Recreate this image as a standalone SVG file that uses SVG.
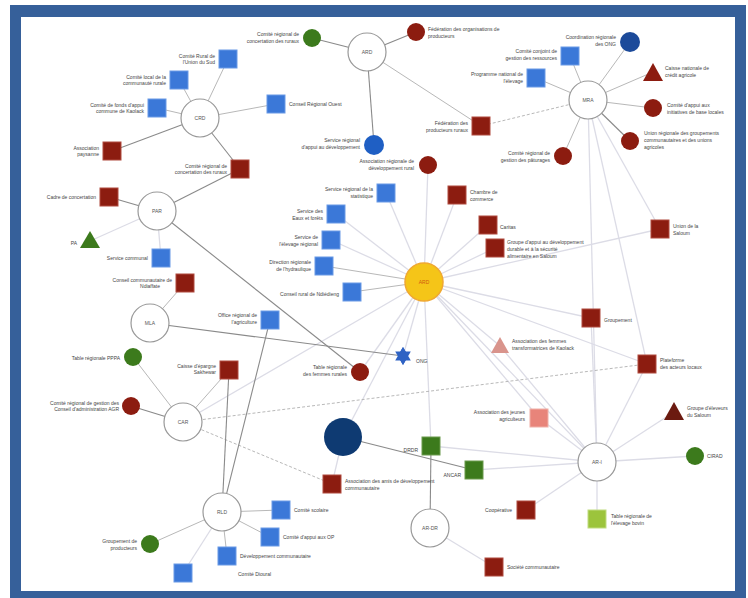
<svg xmlns="http://www.w3.org/2000/svg" width="748" height="598" viewBox="0 0 748 598">
<defs>
<style>
.lbl{font-family:"Liberation Sans",Arial,sans-serif;font-size:5px;fill:#444}
.r{text-anchor:end}
.hl{font-family:"Liberation Sans",Arial,sans-serif;font-size:5px;fill:#555;text-anchor:middle}
.hub{fill:#fff;stroke:#999;stroke-width:1.2}
.ed{stroke:#8a8a8a;stroke-width:1.1;fill:none}
.em{stroke:#b8b8b8;stroke-width:1;fill:none}
.ef{stroke:#dcdce6;stroke-width:1.3;fill:none}
.ex{stroke:#b0b0b0;stroke-width:0.9;fill:none;stroke-dasharray:3 2}
.sb{fill:#3b78d8;stroke:#6a9ae6;stroke-width:1}
.sr{fill:#8c1c10;stroke:#b04a3e;stroke-width:1}
.sg{fill:#3c7a1c;stroke:#6a9a4c;stroke-width:1}
</style>
</defs>
<rect x="10" y="5" width="736" height="593" fill="#36609a"/>
<rect x="21" y="17" width="714" height="574" fill="#ffffff"/>

<g id="connectors">
<!-- central yellow -->
<line class="ef" x1="424" y1="282" x2="386" y2="193"/>
<line class="ef" x1="424" y1="282" x2="336" y2="214"/>
<line class="ef" x1="424" y1="282" x2="331" y2="240"/>
<line class="em" x1="424" y1="282" x2="324" y2="266"/>
<line class="em" x1="424" y1="282" x2="352" y2="292"/>
<line class="ef" x1="424" y1="282" x2="428" y2="165"/>
<line class="ef" x1="424" y1="282" x2="457" y2="195"/>
<line class="ef" x1="424" y1="282" x2="488" y2="225"/>
<line class="ef" x1="424" y1="282" x2="495" y2="248"/>
<line class="ef" x1="424" y1="282" x2="660" y2="229"/>
<line class="ef" x1="424" y1="282" x2="591" y2="318"/>
<line class="ef" x1="424" y1="282" x2="500" y2="346"/>
<line class="ef" x1="424" y1="282" x2="647" y2="364"/>
<line class="ef" x1="424" y1="282" x2="403" y2="356"/>
<line class="ef" x1="424" y1="282" x2="360" y2="372"/>
<line class="ef" x1="424" y1="282" x2="539" y2="418"/>
<line class="ef" x1="424" y1="282" x2="597" y2="462"/>
<line class="ef" x1="424" y1="282" x2="431" y2="446"/>
<line class="ef" x1="424" y1="282" x2="343" y2="437"/>
<line class="ef" x1="424" y1="282" x2="183" y2="422"/>
<!-- H1 -->
<line class="em" x1="200" y1="118" x2="228" y2="59"/>
<line class="em" x1="200" y1="118" x2="179" y2="80"/>
<line class="em" x1="200" y1="118" x2="157" y2="108"/>
<line class="ed" x1="200" y1="118" x2="112" y2="151"/>
<line class="ed" x1="200" y1="118" x2="240" y2="169"/>
<line class="em" x1="200" y1="118" x2="276" y2="104"/>
<!-- H2 -->
<line class="ed" x1="367" y1="52" x2="312" y2="38"/>
<line class="ed" x1="367" y1="52" x2="416" y2="32"/>
<line class="ed" x1="367" y1="52" x2="374" y2="145"/>
<line class="em" x1="367" y1="52" x2="481" y2="126"/>
<!-- H3 -->
<line class="em" x1="588" y1="100" x2="630" y2="42"/>
<line class="em" x1="588" y1="100" x2="570" y2="56"/>
<line class="em" x1="588" y1="100" x2="536" y2="78"/>
<line class="em" x1="588" y1="100" x2="653" y2="72"/>
<line class="em" x1="588" y1="100" x2="653" y2="108"/>
<line class="ed" x1="588" y1="100" x2="630" y2="141"/>
<line class="em" x1="588" y1="100" x2="563" y2="156"/>
<line class="ex" x1="588" y1="100" x2="481" y2="126"/>
<line class="ef" x1="588" y1="100" x2="660" y2="229"/>
<line class="ef" x1="588" y1="100" x2="597" y2="462"/>
<line class="ef" x1="588" y1="100" x2="647" y2="364"/>
<!-- H4 -->
<line class="ed" x1="157" y1="211" x2="240" y2="169"/>
<line class="ed" x1="157" y1="211" x2="109" y2="197"/>
<line class="ef" x1="157" y1="211" x2="90" y2="241"/>
<line class="ef" x1="157" y1="211" x2="161" y2="258"/>
<line class="ed" x1="157" y1="211" x2="360" y2="372"/>
<!-- H5 -->
<line class="em" x1="150" y1="323" x2="185" y2="283"/>
<line class="ed" x1="150" y1="323" x2="403" y2="356"/>
<!-- H6 -->
<line class="em" x1="183" y1="422" x2="133" y2="357"/>
<line class="em" x1="183" y1="422" x2="229" y2="370"/>
<line class="ed" x1="183" y1="422" x2="131" y2="406"/>
<line class="ex" x1="183" y1="422" x2="647" y2="364"/>
<line class="ex" x1="183" y1="422" x2="332" y2="484"/>
<!-- H7 -->
<line class="ed" x1="222" y1="512" x2="270" y2="320"/>
<line class="ed" x1="222" y1="512" x2="229" y2="370"/>
<line class="em" x1="222" y1="512" x2="150" y2="544"/>
<line class="em" x1="222" y1="512" x2="281" y2="510"/>
<line class="em" x1="222" y1="512" x2="270" y2="537"/>
<line class="em" x1="222" y1="512" x2="227" y2="556"/>
<line class="ef" x1="222" y1="512" x2="183" y2="573"/>
<!-- navy / H8 -->
<line class="ed" x1="343" y1="437" x2="474" y2="470"/>
<line class="ef" x1="343" y1="437" x2="332" y2="484"/>
<line class="ed" x1="431" y1="446" x2="430" y2="528"/>
<line class="ef" x1="430" y1="528" x2="494" y2="567"/>
<!-- H9 -->
<line class="ef" x1="597" y1="462" x2="539" y2="418"/>
<line class="ef" x1="597" y1="462" x2="674" y2="412"/>
<line class="ef" x1="597" y1="462" x2="695" y2="456"/>
<line class="ef" x1="597" y1="462" x2="526" y2="510"/>
<line class="ef" x1="597" y1="462" x2="597" y2="519"/>
<line class="ef" x1="597" y1="462" x2="591" y2="318"/>
<line class="ef" x1="597" y1="462" x2="500" y2="346"/>
<line class="ef" x1="597" y1="462" x2="431" y2="446"/>
<line class="ef" x1="597" y1="462" x2="474" y2="470"/>
<line class="ef" x1="597" y1="462" x2="647" y2="364"/>
</g>

<!-- hubs -->
<g id="h1"><circle class="hub" cx="200" cy="118" r="19"/><text class="hl" x="200" y="120">CRD</text></g>
<g id="h2"><circle class="hub" cx="367" cy="52" r="19"/><text class="hl" x="367" y="54">ARD</text></g>
<g id="h3"><circle class="hub" cx="588" cy="100" r="19"/><text class="hl" x="588" y="102">MRA</text></g>
<g id="h4"><circle class="hub" cx="157" cy="211" r="19"/><text class="hl" x="157" y="213">PAR</text></g>
<g id="h5"><circle class="hub" cx="150" cy="323" r="19"/><text class="hl" x="150" y="325">MLA</text></g>
<g id="h6"><circle class="hub" cx="183" cy="422" r="19"/><text class="hl" x="183" y="424">CAR</text></g>
<g id="h7"><circle class="hub" cx="222" cy="512" r="19"/><text class="hl" x="222" y="514">RLD</text></g>
<g id="h8"><circle class="hub" cx="430" cy="528" r="19"/><text class="hl" x="430" y="530">AR-DR</text></g>
<g id="h9"><circle class="hub" cx="597" cy="462" r="19"/><text class="hl" x="597" y="464">AR-I</text></g>
<g id="center"><circle cx="424" cy="282" r="19" fill="#f5c518" stroke="#f0a830" stroke-width="1.5"/><text class="hl" x="424" y="284" style="fill:#d05a10">ARD</text></g>
<g id="navy"><circle cx="343" cy="437" r="19" fill="#0e3a72"/></g>

<!-- leaves -->
<g id="n1"><rect class="sb" x="219" y="50" width="18" height="18"/><text class="lbl r" x="215" y="58">Comité Rural de</text><text class="lbl r" x="215" y="64">l'Union du Sud</text></g>
<g id="n2"><rect class="sb" x="170" y="71" width="18" height="18"/><text class="lbl r" x="166" y="79">Comité local de la</text><text class="lbl r" x="166" y="85">communauté rurale</text></g>
<g id="n3"><rect class="sb" x="148" y="99" width="18" height="18"/><text class="lbl r" x="144" y="107">Comité de fonds d'appui</text><text class="lbl r" x="144" y="113">commune de Kaolack</text></g>
<g id="n4"><rect class="sr" x="103" y="142" width="18" height="18"/><text class="lbl r" x="99" y="150">Association</text><text class="lbl r" x="99" y="156">paysanne</text></g>
<g id="n5"><rect class="sr" x="231" y="160" width="18" height="18"/><text class="lbl r" x="227" y="168">Comité régional de</text><text class="lbl r" x="227" y="174">concertation des ruraux</text></g>
<g id="n6"><rect class="sr" x="100" y="188" width="18" height="18"/><text class="lbl r" x="96" y="199">Cadre de concertation</text></g>
<g id="n7"><polygon points="90,231 100,248 80,248" fill="#3c7a1c"/><text class="lbl r" x="77" y="245">PA</text></g>
<g id="n8"><rect class="sb" x="152" y="249" width="18" height="18"/><text class="lbl r" x="148" y="260">Service communal</text></g>
<g id="n9"><rect class="sr" x="176" y="274" width="18" height="18"/><text class="lbl r" x="172" y="282">Conseil communautaire de</text><text class="lbl r" x="160" y="288">Ndiaffate</text></g>
<g id="n10"><circle cx="133" cy="357" r="9" fill="#3c7a1c"/><text class="lbl r" x="120" y="360">Table régionale PPPA</text></g>
<g id="n11"><rect class="sr" x="220" y="361" width="18" height="18"/><text class="lbl r" x="216" y="368">Caisse d'épargne</text><text class="lbl r" x="216" y="374">Sakhewar</text></g>
<g id="n12"><circle cx="131" cy="406" r="9" fill="#8c1c10"/><text class="lbl r" x="119" y="405">Comité régional de gestion des</text><text class="lbl r" x="119" y="411">Conseil d'administration AGR</text></g>
<g id="n13"><circle cx="150" cy="544" r="9" fill="#3c7a1c"/><text class="lbl r" x="137" y="543">Groupement de</text><text class="lbl r" x="137" y="550">producteurs</text></g>
<g id="n14"><rect class="sb" x="272" y="501" width="18" height="18"/><text class="lbl" x="294" y="512">Comité scolaire</text></g>
<g id="n15"><rect class="sb" x="261" y="528" width="18" height="18"/><text class="lbl" x="283" y="539">Comité d'appui aux OP</text></g>
<g id="n16"><rect class="sb" x="218" y="547" width="18" height="18"/><text class="lbl" x="240" y="558">Développement communautaire</text></g>
<g id="n17"><rect class="sb" x="174" y="564" width="18" height="18"/><text class="lbl" x="238" y="576">Comité Dioural</text></g>
<g id="n18"><rect class="sr" x="323" y="475" width="18" height="18"/><text class="lbl" x="345" y="483">Association des amis de développement</text><text class="lbl" x="345" y="490">communautaire</text></g>
<g id="n19"><rect class="sg" x="422" y="437" width="18" height="18"/><text class="lbl r" x="418" y="452">DRDR</text></g>
<g id="n20"><rect class="sg" x="465" y="461" width="18" height="18"/><text class="lbl r" x="461" y="477">ANCAR</text></g>
<g id="n21"><rect class="sr" x="485" y="558" width="18" height="18"/><text class="lbl" x="507" y="569">Société communautaire</text></g>
<g id="n22"><rect class="sr" x="517" y="501" width="18" height="18"/><text class="lbl r" x="512" y="512">Coopérative</text></g>
<g id="n23"><rect x="588" y="510" width="18" height="18" fill="#9cc43c" stroke="#c0dc80"/><text class="lbl" x="611" y="518">Table régionale de</text><text class="lbl" x="611" y="525">l'élevage bovin</text></g>
<g id="n24"><circle cx="695" cy="456" r="9" fill="#3c7a1c"/><text class="lbl" x="707" y="458">CIRAD</text></g>
<g id="n25"><polygon points="674,402 684,420 664,420" fill="#6b1a10"/><text class="lbl" x="687" y="410">Groupe d'éleveurs</text><text class="lbl" x="687" y="417">du Saloum</text></g>
<g id="n26"><rect x="530" y="409" width="18" height="18" fill="#e8847a" stroke="#f0b0a8"/><text class="lbl r" x="525" y="414">Association des jeunes</text><text class="lbl r" x="525" y="421">agriculteurs</text></g>
<g id="n27"><rect class="sr" x="638" y="355" width="18" height="18"/><text class="lbl" x="660" y="362">Plateforme</text><text class="lbl" x="660" y="369">des acteurs locaux</text></g>
<g id="n28"><polygon points="500,337 509,353 491,353" fill="#d9948c"/><text class="lbl" x="512" y="343">Association des femmes</text><text class="lbl" x="512" y="350">transformatrices de Kaolack</text></g>
<g id="n29"><rect class="sr" x="582" y="309" width="18" height="18"/><text class="lbl" x="604" y="322">Groupement</text></g>
<g id="n30"><polygon points="403,347 407.5,354.8 398.5,354.8" fill="#2f63c4"/><polygon points="403,365 398.5,357.2 407.5,357.2" fill="#2f63c4"/><polygon points="395.2,351.5 410.8,351.5 403,365" fill="#2f63c4"/><polygon points="395.2,360.5 410.8,360.5 403,347" fill="#2f63c4"/><text class="lbl" x="416" y="363">ONG</text></g>
<g id="n31"><circle cx="360" cy="372" r="9" fill="#8c1c10"/><text class="lbl r" x="347" y="369">Table régionale</text><text class="lbl r" x="347" y="376">des femmes rurales</text></g>
<g id="n32"><rect class="sb" x="261" y="311" width="18" height="18"/><text class="lbl r" x="257" y="317">Office régional de</text><text class="lbl r" x="257" y="324">l'agriculture</text></g>
<g id="n33"><rect class="sb" x="343" y="283" width="18" height="18"/><text class="lbl r" x="339" y="296">Conseil rural de Ndiédieng</text></g>
<g id="n34"><rect class="sb" x="315" y="257" width="18" height="18"/><text class="lbl r" x="311" y="264">Direction régionale</text><text class="lbl r" x="311" y="271">de l'hydraulique</text></g>
<g id="n35"><rect class="sb" x="322" y="231" width="18" height="18"/><text class="lbl r" x="318" y="239">Service de</text><text class="lbl r" x="318" y="246">l'élevage régional</text></g>
<g id="n36"><rect class="sb" x="327" y="205" width="18" height="18"/><text class="lbl r" x="323" y="213">Service des</text><text class="lbl r" x="323" y="220">Eaux et forêts</text></g>
<g id="n37"><rect class="sb" x="377" y="184" width="18" height="18"/><text class="lbl r" x="373" y="191">Service régional de la</text><text class="lbl r" x="373" y="198">statistique</text></g>
<g id="n38"><rect class="sr" x="448" y="186" width="18" height="18"/><text class="lbl" x="470" y="194">Chambre de</text><text class="lbl" x="470" y="201">commerce</text></g>
<g id="n39"><rect class="sr" x="479" y="216" width="18" height="18"/><text class="lbl" x="500" y="229">Caritas</text></g>
<g id="n40"><rect class="sr" x="486" y="239" width="18" height="18"/><text class="lbl" x="507" y="244">Groupe d'appui au développement</text><text class="lbl" x="507" y="251">durable et à la sécurité</text><text class="lbl" x="507" y="258">alimentaire en Saloum</text></g>
<g id="n41"><rect class="sr" x="651" y="220" width="18" height="18"/><text class="lbl" x="673" y="228">Union de la</text><text class="lbl" x="673" y="235">Saloum</text></g>
<g id="n42"><circle cx="428" cy="165" r="9" fill="#8c1c10"/><text class="lbl r" x="414" y="163">Association régionale de</text><text class="lbl r" x="414" y="170">développement rural</text></g>
<g id="n43"><rect class="sr" x="472" y="117" width="18" height="18"/><text class="lbl r" x="468" y="125">Fédération des</text><text class="lbl r" x="468" y="132">producteurs ruraux</text></g>
<g id="n44"><circle cx="374" cy="145" r="10" fill="#1f5fc4"/><text class="lbl r" x="360" y="142">Service régional</text><text class="lbl r" x="360" y="149">d'appui au développement</text></g>
<g id="n45"><rect class="sb" x="267" y="95" width="18" height="18"/><text class="lbl" x="289" y="106">Conseil Régional Ouest</text></g>
<g id="n46"><circle cx="312" cy="38" r="9" fill="#3c7a1c"/><text class="lbl r" x="299" y="36">Comité régional de</text><text class="lbl r" x="299" y="43">concertation des ruraux</text></g>
<g id="n47"><circle cx="416" cy="32" r="9" fill="#8c1c10"/><text class="lbl" x="428" y="31">Fédération des organisations de</text><text class="lbl" x="428" y="38">producteurs</text></g>
<g id="n48"><circle cx="630" cy="42" r="10" fill="#1c4a9a"/><text class="lbl r" x="616" y="39">Coordination régionale</text><text class="lbl r" x="616" y="46">des ONG</text></g>
<g id="n49"><rect class="sb" x="561" y="47" width="18" height="18"/><text class="lbl r" x="557" y="53">Comité conjoint de</text><text class="lbl r" x="557" y="60">gestion des ressources</text></g>
<g id="n50"><rect class="sb" x="527" y="69" width="18" height="18"/><text class="lbl r" x="523" y="76">Programme national de</text><text class="lbl r" x="523" y="83">l'élevage</text></g>
<g id="n51"><polygon points="653,63 663,81 643,81" fill="#8c1c10"/><text class="lbl" x="665" y="70">Caisse nationale de</text><text class="lbl" x="665" y="77">crédit agricole</text></g>
<g id="n52"><circle cx="653" cy="108" r="9" fill="#8c1c10"/><text class="lbl" x="667" y="107">Comité d'appui aux</text><text class="lbl" x="667" y="114">initiatives de base locales</text></g>
<g id="n53"><circle cx="630" cy="141" r="9" fill="#8c1c10"/><text class="lbl" x="644" y="135">Union régionale des groupements</text><text class="lbl" x="644" y="142">communautaires et des unions</text><text class="lbl" x="644" y="149">agricoles</text></g>
<g id="n54"><circle cx="563" cy="156" r="9" fill="#8c1c10"/><text class="lbl r" x="550" y="155">Comité régional de</text><text class="lbl r" x="550" y="162">gestion des pâturages</text></g>
</svg>
